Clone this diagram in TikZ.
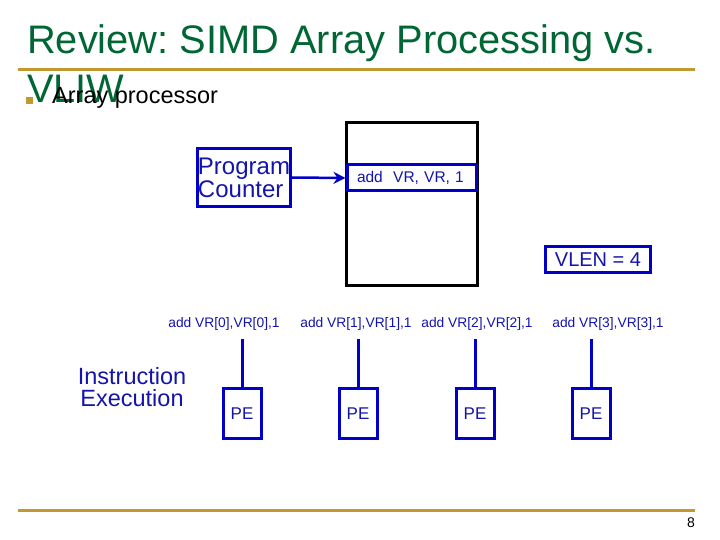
\documentclass[tikz,border=0pt]{standalone}
\usepackage{fontspec}
\setmainfont{Liberation Sans}
\usetikzlibrary{arrows.meta}
\definecolor{titlegreen}{RGB}{0,102,51}
\definecolor{gold}{RGB}{192,154,48}
\definecolor{pblue}{RGB}{0,0,200}
\definecolor{tblue}{RGB}{20,20,170}
\frenchspacing
\tikzset{
  bluebox/.style={draw=pblue, line width=3pt, inner sep=0pt},
  pebox/.style={bluebox, minimum width=38pt, minimum height=50pt, text=tblue, font=\fontsize{17}{19}\selectfont},
  lbl/.style={text=tblue, font=\fontsize{13.8}{15}\selectfont, inner sep=0pt},
  wire/.style={draw=pblue, line width=3pt},
  goldline/.style={draw=gold, line width=3pt},
  titletext/.style={anchor=base west, inner sep=0pt, text=titlegreen, font=\fontsize{39.8}{42}\selectfont}
}
\begin{document}
\begin{tikzpicture}[x=1pt,y=-1pt]
\useasboundingbox (0,0) rectangle (720,540);
% title
\node[titletext] (t1) at (27,54) {Review: SIMD Array Processing vs.};
\node[titletext] (t2) at (27,103) {VLIW};
\coordinate (gl1) at (18,70);
\coordinate (gl2) at (695,70);
\draw[goldline] (gl1) -- (gl2);
\node[fill=gold, minimum size=7pt, inner sep=0pt] (bul) at (29.5,100.5) {};
\node[anchor=base west, inner sep=0pt, font=\fontsize{23.5}{25}\selectfont] (sub) at (52,104) {Array processor};
% memory
\node[draw=black, line width=3pt, minimum width=131pt, minimum height=162pt, inner sep=0pt] (mem) at (412,204) {};
\node[bluebox, minimum width=129pt, minimum height=26pt, text=tblue, font=\fontsize{15.5}{17}\selectfont, text width=109pt, align=left] (row) at (411.5,178) {add\ \ VR, VR, 1};
\node[bluebox, minimum width=93pt, minimum height=58pt, text=tblue, font=\fontsize{24}{23}\selectfont, align=left] (pc) at (244,177.5) {Program\\Counter};
\draw[draw=pblue, line width=2.5pt, -{Stealth[length=12pt,width=12pt]}] (pc.east) -- (row.west);
\node[bluebox, minimum width=105pt, minimum height=26pt, text=tblue, font=\fontsize{20}{22}\selectfont] (vlen) at (598,259.5) {VLEN = 4};
% labels
\node[lbl] (l0) at (224,324) {add VR[0],VR[0],1};
\node[lbl] (l1) at (356,324) {add VR[1],VR[1],1};
\node[lbl] (l2) at (477,324) {add VR[2],VR[2],1};
\node[lbl] (l3) at (608,324) {add VR[3],VR[3],1};
\coordinate (c0) at (242,339);
\coordinate (c1) at (358,339);
\coordinate (c2) at (475,339);
\coordinate (c3) at (591,339);
\node[pebox] (pe0) at (242,413.5) {PE};
\node[pebox] (pe1) at (358,413.5) {PE};
\node[pebox] (pe2) at (475,413.5) {PE};
\node[pebox] (pe3) at (591,413.5) {PE};
\draw[wire] (c0) -- (pe0.north);
\draw[wire] (c1) -- (pe1.north);
\draw[wire] (c2) -- (pe2.north);
\draw[wire] (c3) -- (pe3.north);
\node[text=tblue, font=\fontsize{23.5}{22}\selectfont, align=center, inner sep=0pt] (ie) at (132,387) {Instruction\\Execution};
% footer
\coordinate (gl3) at (18,510);
\coordinate (gl4) at (695,510);
\draw[goldline] (gl3) -- (gl4);
\node[anchor=base east, inner sep=0pt, font=\fontsize{14}{16}\selectfont] (pg) at (695,527) {8};
\end{tikzpicture}
\end{document}
